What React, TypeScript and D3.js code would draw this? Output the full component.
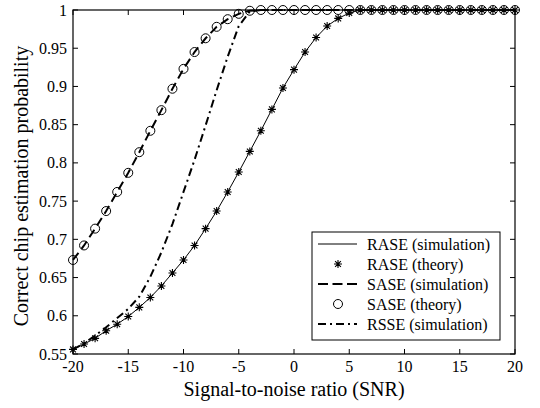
import React from 'react';
import * as d3 from 'd3';

const snr = [-20, -19, -18, -17, -16, -15, -14, -13, -12, -11, -10, -9, -8, -7, -6, -5, -4, -3, -2, -1, 0, 1, 2, 3, 4, 5, 6, 7, 8, 9, 10, 11, 12, 13, 14, 15, 16, 17, 18, 19, 20];

const raseSim = [0.556, 0.563, 0.5705, 0.5805, 0.589, 0.599, 0.611, 0.624, 0.639, 0.656, 0.673, 0.692, 0.714, 0.737, 0.762, 0.788, 0.815, 0.842, 0.870, 0.898, 0.922, 0.945, 0.964, 0.979, 0.989, 0.996, 1, 1, 1, 1, 1, 1, 1, 1, 1, 1, 1, 1, 1, 1, 1];
const raseTheory = [0.556, 0.563, 0.5705, 0.5805, 0.589, 0.599, 0.611, 0.624, 0.639, 0.656, 0.673, 0.692, 0.714, 0.737, 0.762, 0.788, 0.815, 0.842, 0.870, 0.898, 0.922, 0.945, 0.964, 0.979, 0.989, 0.996, 1, 1, 1, 1, 1, 1, 1, 1, 1, 1, 1, 1, 1, 1, 1];
const saseSim = [0.673, 0.692, 0.714, 0.737, 0.762, 0.787, 0.814, 0.842, 0.869, 0.897, 0.923, 0.945, 0.963, 0.978, 0.988, 0.995, 0.999, 1, 1, 1, 1, 1, 1, 1, 1, 1, 1, 1, 1, 1, 1, 1, 1, 1, 1, 1, 1, 1, 1, 1, 1];
const saseTheory = [0.673, 0.692, 0.714, 0.737, 0.762, 0.787, 0.814, 0.842, 0.869, 0.897, 0.923, 0.945, 0.963, 0.978, 0.988, 0.995, 0.999, 1, 1, 1, 1, 1, 1, 1, 1, 1, 1, 1, 1, 1, 1, 1, 1, 1, 1, 1, 1, 1, 1, 1, 1];
const rsseSim = [0.556, 0.564, 0.574, 0.585, 0.597, 0.609, 0.625, 0.651, 0.683, 0.720, 0.762, 0.804, 0.849, 0.895, 0.939, 0.979, 0.998, 1, 1, 1, 1, 1, 1, 1, 1, 1, 1, 1, 1, 1, 1, 1, 1, 1, 1, 1, 1, 1, 1, 1, 1];

const xTicks = [-20, -15, -10, -5, 0, 5, 10, 15, 20];
const xTickLabels = ['-20', '-15', '-10', '-5', '0', '5', '10', '15', '20'];
const yTicks = [0.55, 0.6, 0.65, 0.7, 0.75, 0.8, 0.85, 0.9, 0.95, 1];
const yTickLabels = ['0.55', '0.6', '0.65', '0.7', '0.75', '0.8', '0.85', '0.9', '0.95', '1'];
const legendLabels = ['RASE (simulation)', 'RASE (theory)', 'SASE (simulation)', 'SASE (theory)', 'RSSE (simulation)'];

const FONT = '"Liberation Serif", "Times New Roman", serif';
const STAR = 'M-4,0H4M0,-4V4M-2.9,-2.9L2.9,2.9M-2.9,2.9L2.9,-2.9';

export default function App() {
  const W = 540, H = 408;
  const left = 73, right = 515, top = 10, bottom = 354;
  const x = d3.scaleLinear().domain([-20, 20]).range([left, right]);
  const y = d3.scaleLinear().domain([0.55, 1]).range([bottom, top]);
  const mk = (vals: number[]) =>
    d3.line<number>().x((_, i) => x(snr[i])).y((d) => y(d))(vals) || '';

  const tickLen = 5;
  const lx0 = 312, ly0 = 232, lx1 = 500, ly1 = 340;
  const rowY = [244, 264, 284, 304, 324];

  return (
    <svg width={W} height={H} style={{ position: 'absolute', left: 0, top: 0, background: '#fff' }} fontFamily={FONT}>
      <rect x={0} y={0} width={W} height={H} fill="#fff" />
      {/* data lines */}
      <path d={mk(raseSim)} fill="none" stroke="#000" strokeWidth={1} />
      <path d={mk(saseSim)} fill="none" stroke="#000" strokeWidth={2} strokeDasharray="9,5" />
      <path d={mk(rsseSim)} fill="none" stroke="#000" strokeWidth={2} strokeDasharray="8,4,2,4" />
      {/* markers */}
      {saseTheory.map((v, i) => (
        <circle key={'c' + i} cx={x(snr[i])} cy={y(v)} r={4.5} fill="none" stroke="#000" strokeWidth={1} />
      ))}
      {raseTheory.map((v, i) => (
        <path key={'s' + i} d={STAR} transform={`translate(${x(snr[i])},${y(v)})`} fill="none" stroke="#000" strokeWidth={1.1} />
      ))}
      {/* axes box */}
      <rect x={left} y={top} width={right - left} height={bottom - top} fill="none" stroke="#000" strokeWidth={1.2} />
      {xTicks.map((t, i) => (
        <g key={'xt' + i}>
          <line x1={x(t)} x2={x(t)} y1={bottom} y2={bottom - tickLen} stroke="#000" strokeWidth={1} />
          <line x1={x(t)} x2={x(t)} y1={top} y2={top + tickLen} stroke="#000" strokeWidth={1} />
          <text x={x(t)} y={372} textAnchor="middle" fontSize={16} fill="#000">{xTickLabels[i]}</text>
        </g>
      ))}
      {yTicks.map((t, i) => (
        <g key={'yt' + i}>
          <line x1={left} x2={left + tickLen} y1={y(t)} y2={y(t)} stroke="#000" strokeWidth={1} />
          <line x1={right} x2={right - tickLen} y1={y(t)} y2={y(t)} stroke="#000" strokeWidth={1} />
          <text x={67} y={y(t)} dy="0.35em" textAnchor="end" fontSize={16} fill="#000">{yTickLabels[i]}</text>
        </g>
      ))}
      <text x={(left + right) / 2} y={396} textAnchor="middle" fontSize={20} fill="#000">Signal-to-noise ratio (SNR)</text>
      <text transform={`translate(28,${(top + bottom) / 2 + 4}) rotate(-90)`} textAnchor="middle" fontSize={20} fill="#000">Correct chip estimation probability</text>
      {/* legend */}
      <rect x={lx0} y={ly0} width={lx1 - lx0} height={ly1 - ly0} fill="#fff" stroke="#000" strokeWidth={1} />
      <line x1={318} x2={357} y1={rowY[0]} y2={rowY[0]} stroke="#000" strokeWidth={1} />
      <path d={STAR} transform={`translate(338,${rowY[1]})`} fill="none" stroke="#000" strokeWidth={1.1} />
      <line x1={318} x2={357} y1={rowY[2]} y2={rowY[2]} stroke="#000" strokeWidth={2} strokeDasharray="10,4.5" />
      <circle cx={338} cy={rowY[3]} r={4.5} fill="none" stroke="#000" strokeWidth={1} />
      <line x1={318} x2={357} y1={rowY[4]} y2={rowY[4]} stroke="#000" strokeWidth={2} strokeDasharray="8,4,2,4" />
      {legendLabels.map((l, i) => (
        <text key={'lg' + i} x={367} y={rowY[i]} dy="0.35em" fontSize={16} fill="#000">{l}</text>
      ))}
    </svg>
  );
}
